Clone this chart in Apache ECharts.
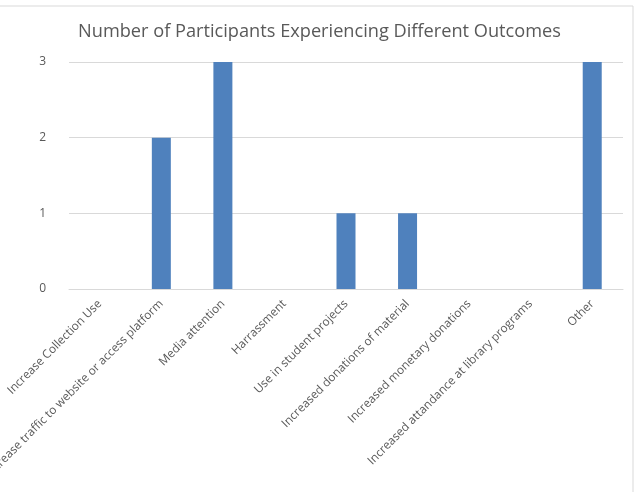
<!DOCTYPE html>
<html><head><meta charset="utf-8">
<script src="https://cdn.jsdelivr.net/npm/echarts@6/dist/echarts.min.js"></script>
<style>html,body{margin:0;padding:0;background:#fff}#c{width:639px;height:492px}</style>
</head><body><div id="c"></div>
<script>
const categories = ["Increase Collection Use","Increase traffic to website or access platform","Media attention","Harrassment","Use in student projects","Increased donations of material","Increased monetary donations","Increased attandance at library programs","Other"];
const values = [0,2,3,0,1,1,0,0,3];
const yTicks = [0,1,2,3];
const chart = echarts.init(document.getElementById('c'));
chart.setOption({
  animation:false,
  title:{text:"Number of Participants Experiencing Different Outcomes",left:'center',top:18,
    textStyle:{fontFamily:"Open Sans",fontSize:18.2,fontWeight:'normal',color:'#595959'}},
  graphic:[{type:'rect',shape:{x:-1,y:6,width:634,height:490},style:{fill:'none',stroke:'#d9d9d9',lineWidth:1}}],
  grid:{left:69,right:16,top:62,bottom:203,containLabel:false,outerBoundsMode:'none'},
  xAxis:{type:'category',data:categories,
    axisLine:{lineStyle:{color:'#d9d9d9'}},axisTick:{show:false},
    axisLabel:{interval:0,rotate:45,margin:13,fontFamily:"Open Sans",fontSize:11.8,color:'#595959'}},
  yAxis:{type:'value',min:yTicks[0],max:yTicks[yTicks.length-1],interval:1,
    axisLine:{show:false},axisTick:{show:false},
    splitLine:{lineStyle:{color:'#d9d9d9'}},
    axisLabel:{margin:23,fontFamily:"Open Sans",fontSize:12,color:'#595959'}},
  series:[{type:'bar',data:values,barWidth:19,itemStyle:{color:'#4f81bd'}}]
});
</script></body></html>
